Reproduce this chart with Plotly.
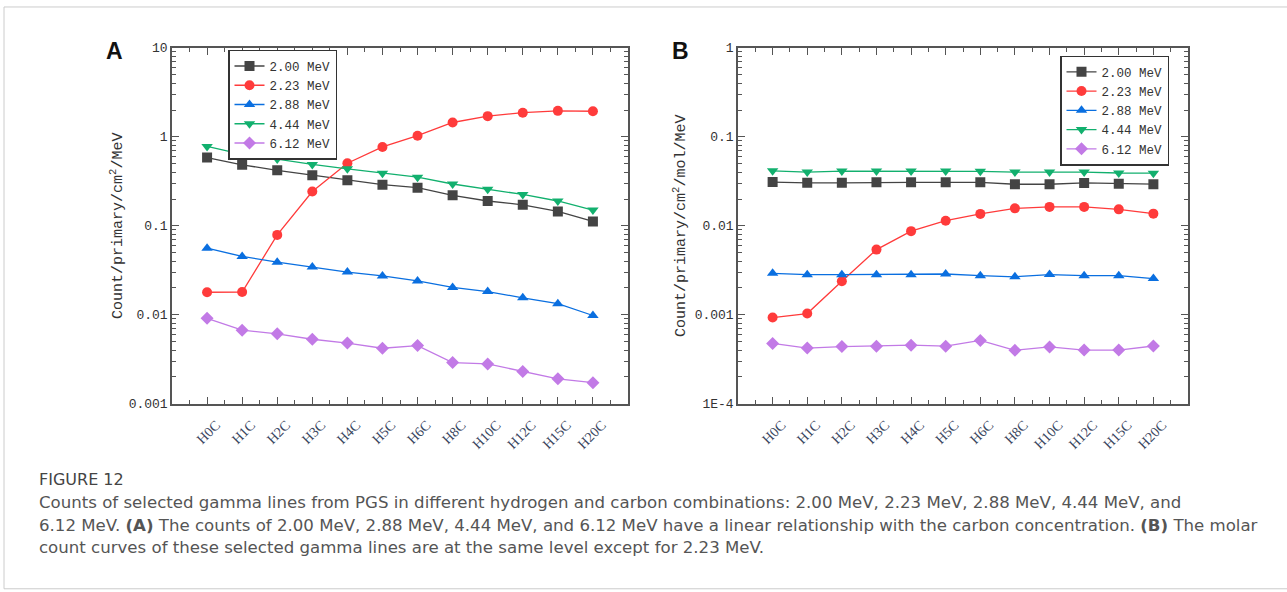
import plotly.graph_objects as go

samples = ["H0C", "H1C", "H2C", "H3C", "H4C", "H5C", "H6C", "H8C", "H10C", "H12C", "H15C", "H20C"]
series_names = ["2.00 MeV", "2.23 MeV", "2.88 MeV", "4.44 MeV", "6.12 MeV"]

# Panel A: counts per primary per cm^2 per MeV
a_200 = [0.585, 0.485, 0.42, 0.37, 0.325, 0.29, 0.268, 0.22, 0.19, 0.172, 0.145, 0.112]
a_223 = [0.0179, 0.0180, 0.079, 0.243, 0.505, 0.77, 1.03, 1.45, 1.71, 1.87, 1.96, 1.94]
a_288 = [0.0560, 0.0452, 0.0390, 0.0343, 0.0302, 0.0273, 0.0240, 0.0203, 0.0182, 0.0155, 0.0133, 0.0098]
a_444 = [0.78, 0.635, 0.563, 0.49, 0.437, 0.39, 0.352, 0.295, 0.258, 0.225, 0.19, 0.150]
a_612 = [0.0091, 0.0067, 0.0061, 0.0053, 0.0048, 0.0042, 0.0045, 0.0029, 0.0028, 0.0023, 0.0019, 0.00172]

# Panel B: molar counts per primary per cm^2 per mol per MeV
b_200 = [0.0310, 0.0304, 0.0304, 0.0308, 0.0308, 0.0308, 0.0308, 0.0293, 0.0293, 0.0303, 0.0296, 0.0294]
b_223 = [0.00093, 0.00103, 0.00238, 0.0054, 0.0087, 0.0114, 0.0136, 0.0157, 0.0163, 0.0163, 0.0153, 0.0137]
b_288 = [0.00292, 0.00282, 0.00282, 0.00282, 0.00282, 0.00287, 0.00275, 0.00267, 0.00283, 0.00275, 0.00275, 0.00255]
b_444 = [0.0415, 0.0402, 0.0412, 0.0412, 0.0412, 0.0412, 0.0410, 0.0402, 0.0402, 0.0402, 0.0392, 0.0390]
b_612 = [0.000476, 0.000422, 0.000438, 0.000443, 0.000455, 0.000443, 0.000514, 0.000398, 0.000435, 0.000400, 0.000400, 0.000445]

a_ticks = [10, 1, 0.1, 0.01, 0.001]
a_ticktext = ["10", "1", "0.1", "0.01", "0.001"]
b_ticks = [1, 0.1, 0.01, 0.001, 0.0001]
b_ticktext = ["1", "0.1", "0.01", "0.001", "1E-4"]

colors = ["#444444", "#ff3b3b", "#0a6fe0", "#12b06e", "#c27ae6"]
symbols = ["square", "circle", "triangle-up", "triangle-down", "diamond"]

W, H = 1287, 592
TXT = "#333333"
MONO = "Liberation Mono"


def px_x(x):
    return x / W


def px_y(y):
    return 1 - y / H


fig = go.Figure()

idx = list(range(len(samples)))
panel_a = [a_200, a_223, a_288, a_444, a_612]
panel_b = [b_200, b_223, b_288, b_444, b_612]

for k, (name, vals) in enumerate(zip(series_names, panel_a)):
    fig.add_trace(go.Scatter(
        x=idx, y=vals, name=name, mode="lines+markers",
        line=dict(color=colors[k], width=1.3),
        marker=dict(symbol=symbols[k], size=10, color=colors[k]),
        xaxis="x", yaxis="y", legend="legend",
    ))
for k, (name, vals) in enumerate(zip(series_names, panel_b)):
    fig.add_trace(go.Scatter(
        x=idx, y=vals, name=name, mode="lines+markers",
        line=dict(color=colors[k], width=1.3),
        marker=dict(symbol=symbols[k], size=10, color=colors[k]),
        xaxis="x2", yaxis="y2", legend="legend2",
    ))

frame = dict(showline=True, linecolor="#555555", linewidth=1.5, mirror="ticks",
             ticks="inside", tickcolor="#555555", showgrid=False, zeroline=False)

xcommon = dict(frame, range=[-1, 12], tickvals=idx, ticktext=samples, ticklen=7,
               tickangle=-45, tickfont=dict(family="Liberation Serif", size=14, color="#3a4660"),
               ticklabelshift=9, ticklabelstandoff=6,
               minor=dict(tick0=0.5, dtick=1, ticks="inside", ticklen=4, tickcolor="#555555"))

ycommon = dict(frame, type="log", ticklen=7,
               tickfont=dict(family=MONO, size=13, color=TXT),
               minor=dict(ticks="inside", ticklen=4, tickcolor="#555555", dtick="D1"))

y_top, y_bot = 43, 408

fig.update_layout(
    width=W, height=H, margin=dict(l=0, r=0, t=0, b=0),
    paper_bgcolor="white", plot_bgcolor="white",
    xaxis=dict(xcommon, domain=[px_x(172), px_x(628)], anchor="y"),
    yaxis=dict(ycommon, domain=[px_y(y_bot), px_y(y_top)], anchor="x",
               range=[-3, 1], tickvals=a_ticks, ticktext=a_ticktext,
               title=dict(text="Count/primary/cm<sup>2</sup>/MeV",
                          font=dict(family=MONO, size=15, color=TXT), standoff=2)),
    xaxis2=dict(xcommon, domain=[px_x(738), px_x(1188)], anchor="y2"),
    yaxis2=dict(ycommon, domain=[px_y(y_bot), px_y(y_top)], anchor="x2",
                range=[-4, 0], tickvals=b_ticks, ticktext=b_ticktext,
                title=dict(text="Count/primary/cm<sup>2</sup>/mol/MeV",
                           font=dict(family=MONO, size=15, color=TXT), standoff=5)),
    legend=dict(x=px_x(228), y=px_y(45), xanchor="left", yanchor="top",
                bgcolor="white", bordercolor="#333333", borderwidth=1.5,
                font=dict(family=MONO, size=12.5, color=TXT), tracegroupgap=0,
                itemwidth=30),
    legend2=dict(x=px_x(1060), y=px_y(51), xanchor="left", yanchor="top",
                 bgcolor="white", bordercolor="#333333", borderwidth=1.5,
                 font=dict(family=MONO, size=12.5, color=TXT), tracegroupgap=0,
                 itemwidth=30),
    showlegend=True,
)

# panel letters
fig.add_annotation(x=px_x(104), y=px_y(46), xref="paper", yref="paper", text="<b>A</b>",
                   showarrow=False, xanchor="left", yanchor="middle",
                   font=dict(family="Liberation Sans", size=23, color="#111111"))
fig.add_annotation(x=px_x(670), y=px_y(46), xref="paper", yref="paper", text="<b>B</b>",
                   showarrow=False, xanchor="left", yanchor="middle",
                   font=dict(family="Liberation Sans", size=23, color="#111111"))

# caption
CAP = "#555555"
CAPFONT = "DejaVu Sans"
fig.add_annotation(x=px_x(37), y=px_y(486), xref="paper", yref="paper", text="FIGURE 12",
                   showarrow=False, xanchor="left", yanchor="middle",
                   font=dict(family=CAPFONT, size=16, color="#444444"))
caption_lines = [
    "Counts of selected gamma lines from PGS in different hydrogen and carbon combinations: 2.00 MeV, 2.23 MeV, 2.88 MeV, 4.44 MeV, and",
    "6.12 MeV. <b>(A)</b> The counts of 2.00 MeV, 2.88 MeV, 4.44 MeV, and 6.12 MeV have a linear relationship with the carbon concentration. <b>(B)</b> The molar",
    "count curves of these selected gamma lines are at the same level except for 2.23 MeV.",
]
for i, line in enumerate(caption_lines):
    fig.add_annotation(x=px_x(37), y=px_y(509 + 23.5 * i), xref="paper", yref="paper", text=line,
                       showarrow=False, xanchor="left", yanchor="middle",
                       font=dict(family=CAPFONT, size=16.6, color=CAP))

# page border
fig.add_shape(type="rect", xref="paper", yref="paper", x0=px_x(4), x1=1.01, y0=-0.01, y1=px_y(1),
              line=dict(color="#cccccc", width=1))

fig.write_html("out.html")
